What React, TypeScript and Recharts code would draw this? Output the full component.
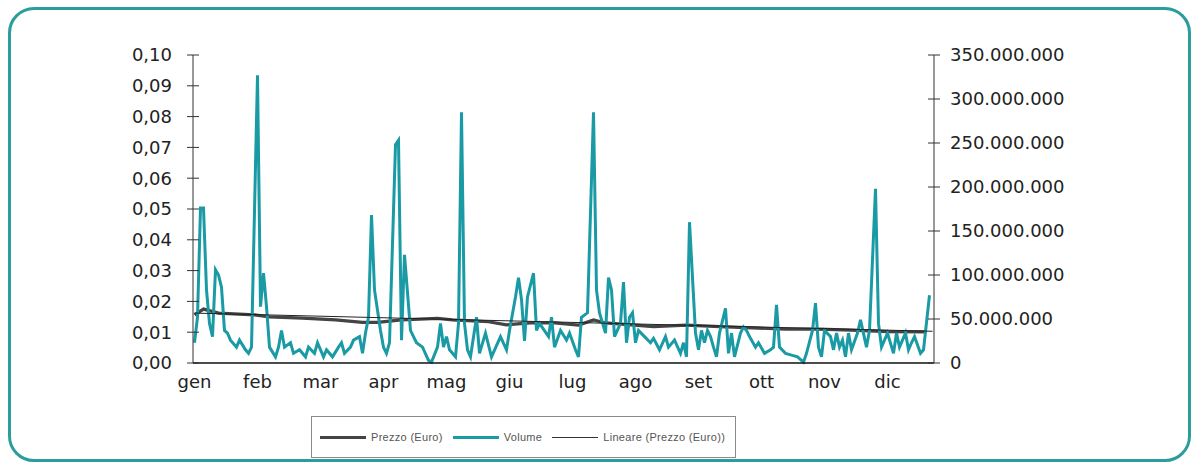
import React from "react";
import { ComposedChart, Line, XAxis, YAxis } from "recharts";

// trading-day index (0 = first session of the year) and traded volume in millions
const giorni = [
  0, 1, 2, 3, 4, 5, 6, 7, 8, 9, 10, 11, 12, 14, 15, 17, 18, 19, 21, 22, 23, 24,
  25, 27, 28, 29, 30, 32, 33, 35, 37, 38, 40, 41, 43, 44, 46, 48, 49, 50, 52,
  53, 55, 56, 57, 58, 59, 60, 62, 63, 64, 65, 67, 68, 69, 70, 72, 73, 74, 76,
  78, 79, 81, 82, 83, 84, 85, 87, 88, 89, 90, 91, 92, 94, 95, 97, 99, 102, 104,
  105, 107, 108, 109, 110, 111, 113, 114, 115, 118, 119, 120, 122, 124, 125,
  127, 128, 129, 131, 133, 134, 135, 137, 138, 139, 140, 142, 143, 144, 145,
  146, 147, 148, 150, 152, 153, 155, 157, 158, 160, 162, 163, 164, 165, 167,
  168, 169, 170, 171, 172, 173, 174, 175, 177, 178, 179, 180, 182, 183, 184,
  185, 187, 188, 190, 192, 193, 194, 195, 197, 199, 201, 203, 204, 206, 207,
  208, 209, 210, 212, 213, 214, 215, 216, 217, 218, 219, 221, 222, 224, 225,
  227, 228, 229, 231, 233, 234, 235, 237, 238, 239, 240, 242, 243, 245,
];
const volumi = [
  23, 52, 176, 176, 83, 45, 30, 106, 100, 86, 37, 34, 26, 18, 26, 15, 11, 18,
  327, 64, 102, 64, 18, 7, 18, 37, 18, 23, 11, 15, 7, 18, 11, 23, 7, 15, 7, 18,
  23, 11, 18, 26, 30, 11, 34, 52, 168, 83, 37, 18, 11, 23, 248, 253, 26, 123,
  37, 30, 23, 18, 3, 1, 18, 45, 18, 30, 15, 7, 45, 285, 45, 15, 7, 52, 11, 34,
  7, 30, 15, 37, 75, 97, 72, 25, 75, 102, 37, 45, 30, 52, 18, 37, 26, 34, 15,
  7, 52, 57, 285, 83, 57, 34, 97, 83, 30, 45, 92, 23, 52, 57, 23, 37, 30, 23,
  28, 15, 30, 18, 26, 11, 23, 7, 160, 34, 15, 37, 23, 37, 30, 18, 7, 34, 62,
  11, 34, 7, 34, 41, 37, 30, 18, 23, 11, 15, 18, 66, 18, 11, 9, 7, 1, 11, 37,
  68, 18, 7, 37, 30, 15, 34, 18, 26, 7, 34, 15, 34, 49, 18, 37, 198, 45, 18,
  34, 11, 34, 18, 34, 15, 23, 30, 11, 15, 77,
];

// closing price (Euro), sampled along the year
const giorniPrezzo = [
  0, 3, 8, 20, 25, 36, 47, 56, 61, 69, 81, 86, 98, 104, 112, 120, 128, 133,
  137, 153, 164, 175, 186, 197, 208, 219, 231, 244,
];
const prezzi = [
  0.0156, 0.0175, 0.0162, 0.0156, 0.015, 0.0146, 0.014, 0.0132, 0.0132, 0.014,
  0.0145, 0.014, 0.0134, 0.0124, 0.013, 0.013, 0.0123, 0.014, 0.013, 0.0118,
  0.0123, 0.0118, 0.0114, 0.011, 0.011, 0.0107, 0.0102, 0.0101,
];

// linear trend of the price
const giorniTrend = [0, 246];
const trend = [0.0162, 0.0103];

const mesi = ["gen", "feb", "mar", "apr", "mag", "giu", "lug", "ago", "set", "ott", "nov", "dic"];
const tickMesi = [0, 21, 42, 63, 84, 105, 126, 147, 168, 189, 210, 231];
const tickPrezzo = [0, 0.01, 0.02, 0.03, 0.04, 0.05, 0.06, 0.07, 0.08, 0.09, 0.1];
const tickVolume = [0, 50e6, 100e6, 150e6, 200e6, 250e6, 300e6, 350e6];

const volumeData = giorni.map((g, i) => ({ giorno: g, volume: volumi[i] * 1e6 }));
const prezzoData = giorniPrezzo.map((g, i) => ({ giorno: g, prezzo: prezzi[i] }));
const trendData = giorniTrend.map((g, i) => ({ giorno: g, trend: trend[i] }));

const FONT = "'DejaVu Sans', sans-serif";
const TEAL = "#1a9aa4";
const GREY = "#444";

const fmtPrezzo = (v: number) => v.toFixed(2).replace(".", ",");
const fmtVolume = (v: number) =>
  Math.round(v)
    .toString()
    .replace(/\B(?=(\d{3})+(?!\d))/g, ".");

const LeftTick = (props: any) => {
  const { x, y, payload } = props;
  const ax = x + 21;
  return (
    <g>
      <line x1={ax - 6} x2={ax + 6} y1={y} y2={y} stroke="#333" />
      <text x={x} y={y} dy="0.36em" textAnchor="end" fontSize={18} fontFamily={FONT} fill="#222">
        {fmtPrezzo(payload.value)}
      </text>
    </g>
  );
};

const RightTick = (props: any) => {
  const { x, y, payload } = props;
  const ax = x - 16;
  return (
    <g>
      <line x1={ax - 6} x2={ax + 6} y1={y} y2={y} stroke="#333" />
      <text x={x} y={y} dy="0.36em" textAnchor="start" fontSize={18} fontFamily={FONT} fill="#222">
        {fmtVolume(payload.value)}
      </text>
    </g>
  );
};

const LegendItem = ({ color, width, label }: { color: string; width: number; label: string }) => (
  <div style={{ display: "flex", alignItems: "center", marginRight: 10 }}>
    <div style={{ width: 46, height: width, background: color, marginRight: 5 }} />
    <span>{label}</span>
  </div>
);

export default function App() {
  return (
    <div style={{ position: "absolute", left: 0, top: 0, width: 1197, height: 463, background: "#fff" }}>
      <div
        style={{
          position: "absolute",
          left: 8,
          top: 7,
          width: 1183,
          height: 455,
          border: "3px solid #2a9d9c",
          borderRadius: 26,
          boxSizing: "border-box",
        }}
      />
      <div style={{ position: "absolute", left: 0, top: 0 }}>
        <ComposedChart width={1197} height={463} margin={{ top: 55, right: 133, bottom: 70, left: 133 }}>
          <XAxis
            type="number"
            dataKey="giorno"
            domain={[-0.5, 246.5]}
            ticks={tickMesi}
            tickFormatter={(v: number) => mesi[tickMesi.indexOf(v)]}
            tickLine={false}
            tickSize={0}
            tickMargin={12}
            axisLine={{ stroke: "#111", strokeWidth: 1.5 }}
            tick={{ fontSize: 18, fontFamily: FONT, fill: "#222" }}
            height={30}
            allowDuplicatedCategory={false}
          />
          <YAxis
            yAxisId="prezzo"
            orientation="left"
            domain={[0, 0.1]}
            ticks={tickPrezzo}
            width={60}
            tickLine={false}
            tickSize={0}
            tickMargin={21}
            axisLine={{ stroke: "#333" }}
            tick={<LeftTick />}
            interval={0}
          />
          <YAxis
            yAxisId="volume"
            orientation="right"
            domain={[0, 350e6]}
            ticks={tickVolume}
            width={130}
            tickLine={false}
            tickSize={0}
            tickMargin={16}
            axisLine={{ stroke: "#333" }}
            tick={<RightTick />}
            interval={0}
          />
          <Line
            yAxisId="prezzo"
            data={prezzoData}
            dataKey="prezzo"
            stroke={GREY}
            strokeWidth={3.2}
            dot={false}
            type="linear"
            isAnimationActive={false}
          />
          <Line
            yAxisId="volume"
            data={volumeData}
            dataKey="volume"
            stroke={TEAL}
            strokeWidth={3}
            dot={false}
            type="linear"
            isAnimationActive={false}
          />
          <Line
            yAxisId="prezzo"
            data={trendData}
            dataKey="trend"
            stroke="#222"
            strokeWidth={1}
            dot={false}
            type="linear"
            isAnimationActive={false}
          />
        </ComposedChart>
      </div>
      <div
        style={{
          position: "absolute",
          left: 311,
          top: 416,
          width: 425,
          height: 42,
          border: "1px solid #8a8a8a",
          boxSizing: "border-box",
          display: "flex",
          alignItems: "center",
          paddingLeft: 8,
          fontFamily: "'Liberation Sans', Arial, sans-serif",
          fontSize: 11,
          color: "#555",
          letterSpacing: 0.3,
          whiteSpace: "nowrap",
        }}
      >
        <LegendItem color={GREY} width={3} label="Prezzo (Euro)" />
        <LegendItem color={TEAL} width={3} label="Volume" />
        <LegendItem color="#333" width={1} label="Lineare (Prezzo (Euro))" />
      </div>
    </div>
  );
}
